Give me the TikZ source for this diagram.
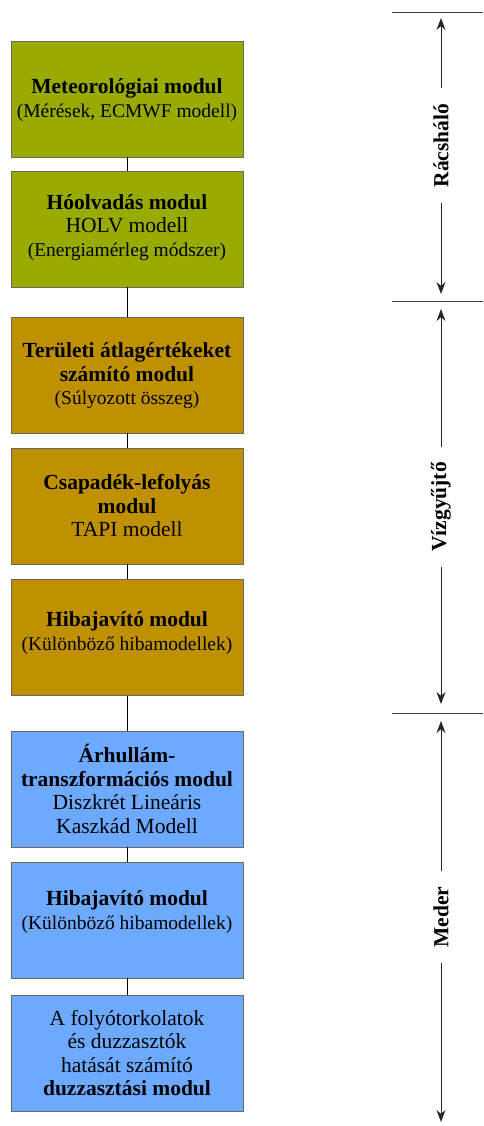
\documentclass[tikz,border=0pt]{standalone}
\usepackage{fontspec}
\setmainfont{Liberation Serif}
\usetikzlibrary{arrows.meta}
\definecolor{grn}{RGB}{153,170,0}
\definecolor{gld}{RGB}{191,144,0}
\definecolor{blu}{RGB}{108,169,255}
\definecolor{edge}{RGB}{105,105,95}
\newcommand{\sm}[1]{{\fontsize{19.5}{23.5}\selectfont #1}}
\begin{document}
\begin{tikzpicture}[x=1pt,y=-1pt,
  box/.style={draw=edge,line width=0.9pt,minimum width=232pt,minimum height=116pt,inner sep=0pt},
  txt/.style={inner sep=0pt,align=center,font=\fontsize{21.5}{23.5}\selectfont},
  conn/.style={draw=black,line width=1pt},
  sect/.style={draw=black!75,line width=1pt},
  lbl/.style={rotate=90,font=\fontsize{21.5}{23}\selectfont\bfseries,inner xsep=15pt,inner ysep=0pt},
  arr/.style={draw=black!85,line width=0.9pt,-{Stealth[length=12pt,width=9pt]}}]
\useasboundingbox (0,0) rectangle (483,1126);
\node[box,fill=grn] (b1) at (127,99) {};
\node[box,fill=grn] (b2) at (127,229) {};
\node[box,fill=gld] (b3) at (127,375) {};
\node[box,fill=gld] (b4) at (127,506) {};
\node[box,fill=gld] (b5) at (127,637.5) {};
\node[box,fill=blu] (b6) at (127,789) {};
\node[box,fill=blu] (b7) at (127,920) {};
\node[box,fill=blu] (b8) at (127,1053) {};
\node[txt] (x1) at ([yshift=-1pt]b1.center) {\textbf{Meteorológiai modul}\\\sm{(Mérések, ECMWF modell)}};
\node[txt] (x2) at ([yshift=1.5pt]b2.center) {\textbf{Hóolvadás modul}\\HOLV modell\\\sm{(Energiamérleg módszer)}};
\node[txt] (x3) at ([yshift=-1pt]b3.center) {\textbf{Területi átlagértékeket}\\\textbf{számító modul}\\\sm{(Súlyozott összeg)}};
\node[txt] (x4) at (b4.center) {\textbf{Csapadék-lefolyás}\\\textbf{modul}\\TAPI modell};
\node[txt] (x5) at ([yshift=4.5pt]b5.center) {\textbf{Hibajavító modul}\\\sm{(Különböző hibamodellek)}};
\node[txt] (x6) at (b6.center) {\textbf{Árhullám-}\\\textbf{transzformációs modul}\\Diszkrét Lineáris\\Kaszkád Modell};
\node[txt] (x7) at ([yshift=8pt]b7.center) {\textbf{Hibajavító modul}\\\sm{(Különböző hibamodellek)}};
\node[txt] (x8) at (b8.center) {A folyótorkolatok\\és duzzasztók\\hatását számító\\\textbf{duzzasztási modul}};
\foreach \a/\b in {b1/b2,b2/b3,b3/b4,b4/b5,b5/b6,b6/b7,b7/b8}
  \draw[conn] (\a.south) -- (\b.north);
% section lines
\coordinate (s1a) at (392,13); \coordinate (s1b) at (483,13);
\coordinate (s2a) at (392,301); \coordinate (s2b) at (483,301);
\coordinate (s3a) at (392,713); \coordinate (s3b) at (483,713);
\draw[sect] (s1a) -- (s1b);
\draw[sect] (s2a) -- (s2b);
\draw[sect] (s3a) -- (s3b);
% dimension arrows
\node[lbl] (l1) at (441,145.5) {Rácsháló};
\node[lbl] (l2) at (441,507) {Vízgyűjtő};
\node[lbl] (l3) at (441,917) {Meder};
\coordinate (t1) at (441,18); \coordinate (u1) at (441,294);
\coordinate (t2) at (441,309); \coordinate (u2) at (441,704);
\coordinate (t3) at (441,721); \coordinate (u3) at (441,1122);
\draw[arr] (l1.east) -- (t1);
\draw[arr] (l1.west) -- (u1);
\draw[arr] (l2.east) -- (t2);
\draw[arr] (l2.west) -- (u2);
\draw[arr] (l3.east) -- (t3);
\draw[arr] (l3.west) -- (u3);
\end{tikzpicture}
\end{document}
